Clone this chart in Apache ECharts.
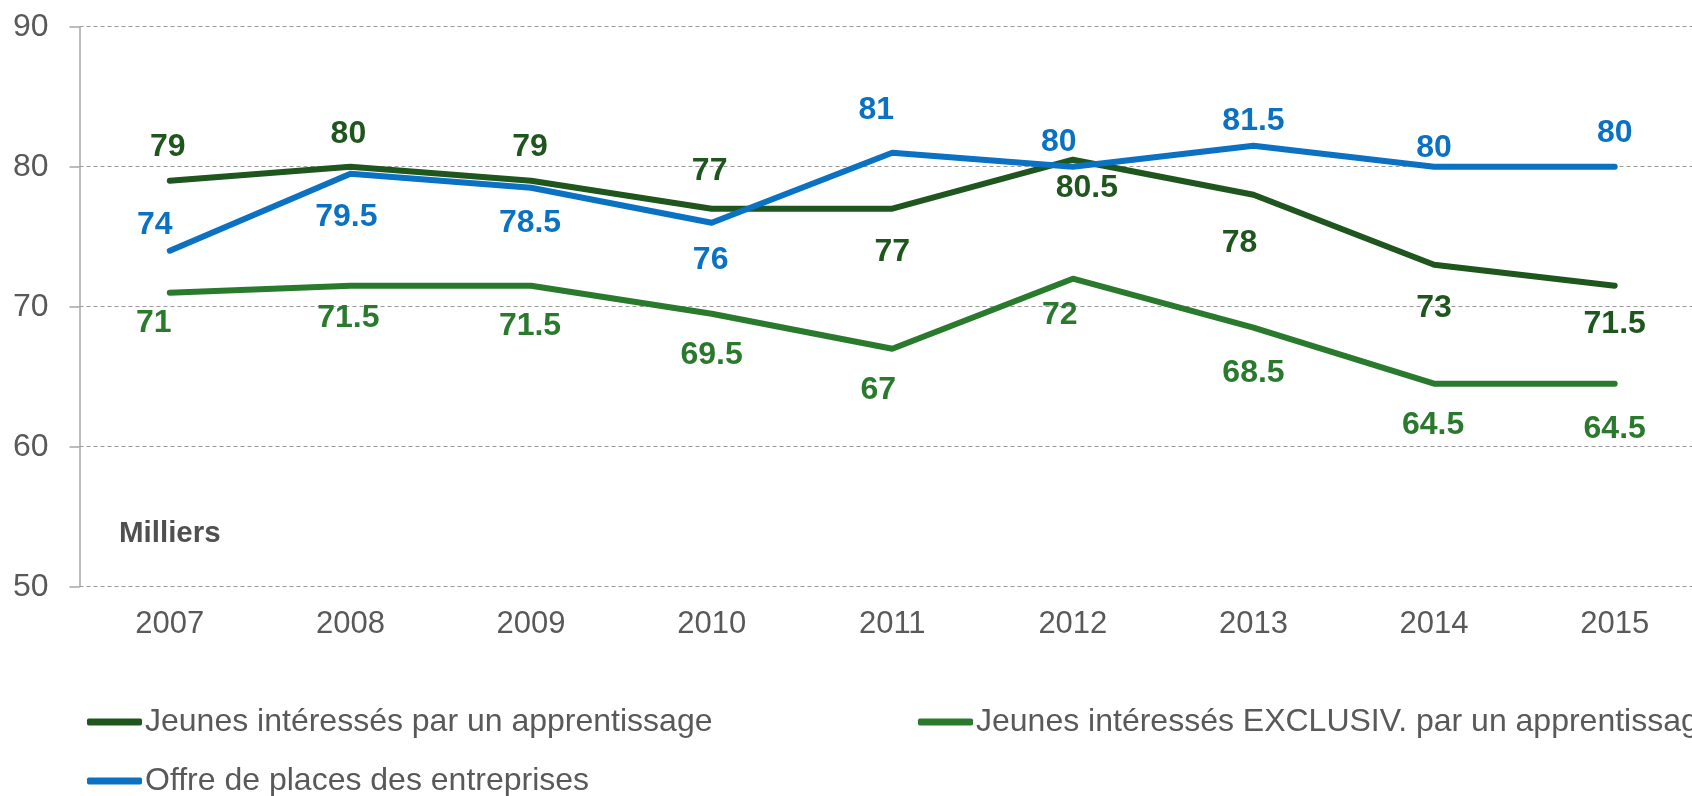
<!DOCTYPE html>
<html>
<head>
<meta charset="utf-8">
<script src="https://cdn.jsdelivr.net/npm/echarts@6/dist/echarts.min.js"></script>
<style>
html,body{margin:0;padding:0;background:#fff;}
#chart{width:1692px;height:796px;}
</style>
</head>
<body>
<div id="chart"></div>
<script>
// ---- data ----
const years = ['2007','2008','2009','2010','2011','2012','2013','2014','2015'];
const jeunes = [79, 80, 79, 77, 77, 80.5, 78, 73, 71.5];
const jeunesExclusiv = [71, 71.5, 71.5, 69.5, 67, 72, 68.5, 64.5, 64.5];
const offre = [74, 79.5, 78.5, 76, 81, 80, 81.5, 80, 80];
const seriesNames = [
  'Jeunes intéressés par un apprentissage',
  'Jeunes intéressés EXCLUSIV. par un apprentissage',
  'Offre de places des entreprises'
];
const yTicks = [50, 60, 70, 80, 90];

// ---- label placement (layout only) ----
const offJeunes = [[-2,-34],[-2,-33],[-1,-34],[-2,-38],[0,43],[14,28],[-14,48],[0,43],[0,38]];
const offExcl   = [[-16,30],[-2,32],[-1,40],[0,41],[-14,41],[-13,36],[0,45],[-1,41],[0,45]];
const offOffre  = [[-15,-26],[-4,43],[-1,35],[-1,37],[-16,-43],[-14,-25],[0,-25],[0,-19],[0,-34]];

const FONT = "'Liberation Sans', Arial, Helvetica, sans-serif";
const colors = ['#1E561E', '#2A7A2E', '#0A71C3'];

function mk(name, vals, offs, color) {
  return {
    name: name,
    type: 'line',
    data: vals.map((v, i) => ({ value: v, label: { offset: offs[i] } })),
    symbol: 'circle',
    symbolSize: 1,
    showSymbol: true,
    showAllSymbol: true,
    itemStyle: { color: color },
    lineStyle: { color: color, width: 6, cap: 'round', join: 'round' },
    label: {
      show: true,
      position: 'inside',
      color: color,
      fontFamily: FONT,
      fontWeight: 'bold',
      fontSize: 32
    },
    emphasis: { disabled: true },
    animation: false
  };
}

function legendAt(name, left, top) {
  return {
    data: [name],
    left: left,
    top: top,
    orient: 'horizontal',
    itemWidth: 55,
    itemHeight: 7,
    itemGap: 0,
    padding: 0,
    icon: 'roundRect',
    selectedMode: false,
    textStyle: { fontFamily: FONT, fontSize: 32, color: '#595959', padding: [0, 0, 0, -2] }
  };
}

const chart = echarts.init(document.getElementById('chart'), null, { renderer: 'canvas' });
chart.setOption({
  backgroundColor: '#ffffff',
  animation: false,
  grid: { left: 79.5, width: 1625.5, top: 26.7, height: 560, containLabel: false, outerBoundsMode: 'none' },
  xAxis: {
    type: 'category',
    data: years,
    boundaryGap: true,
    axisLine: { show: false },
    axisTick: { show: false },
    axisLabel: { color: '#595959', fontFamily: FONT, fontSize: 31, margin: 22 },
    splitLine: { show: false }
  },
  yAxis: {
    type: 'value',
    min: yTicks[0],
    max: yTicks[yTicks.length - 1],
    interval: 10,
    axisLine: { show: true, lineStyle: { color: '#a6a6a6', width: 1.5 } },
    axisTick: { show: true, length: 10, lineStyle: { color: '#a6a6a6', width: 1.5 } },
    axisLabel: { color: '#595959', fontFamily: FONT, fontSize: 32, margin: 31 },
    splitLine: { show: true, lineStyle: { color: '#9a9a9a', width: 1.2, type: [4, 3] } }
  },
  legend: [
    legendAt(seriesNames[0], 87, 706),
    legendAt(seriesNames[1], 918, 706),
    legendAt(seriesNames[2], 87, 765)
  ],
  graphic: [{
    type: 'text',
    left: 119,
    top: 519,
    style: { text: 'Milliers', fontFamily: FONT, fontWeight: 'bold', fontSize: 29.5, fill: '#505050' }
  }],
  series: [
    mk(seriesNames[0], jeunes, offJeunes, colors[0]),
    mk(seriesNames[1], jeunesExclusiv, offExcl, colors[1]),
    mk(seriesNames[2], offre, offOffre, colors[2])
  ]
});
</script>
</body>
</html>
